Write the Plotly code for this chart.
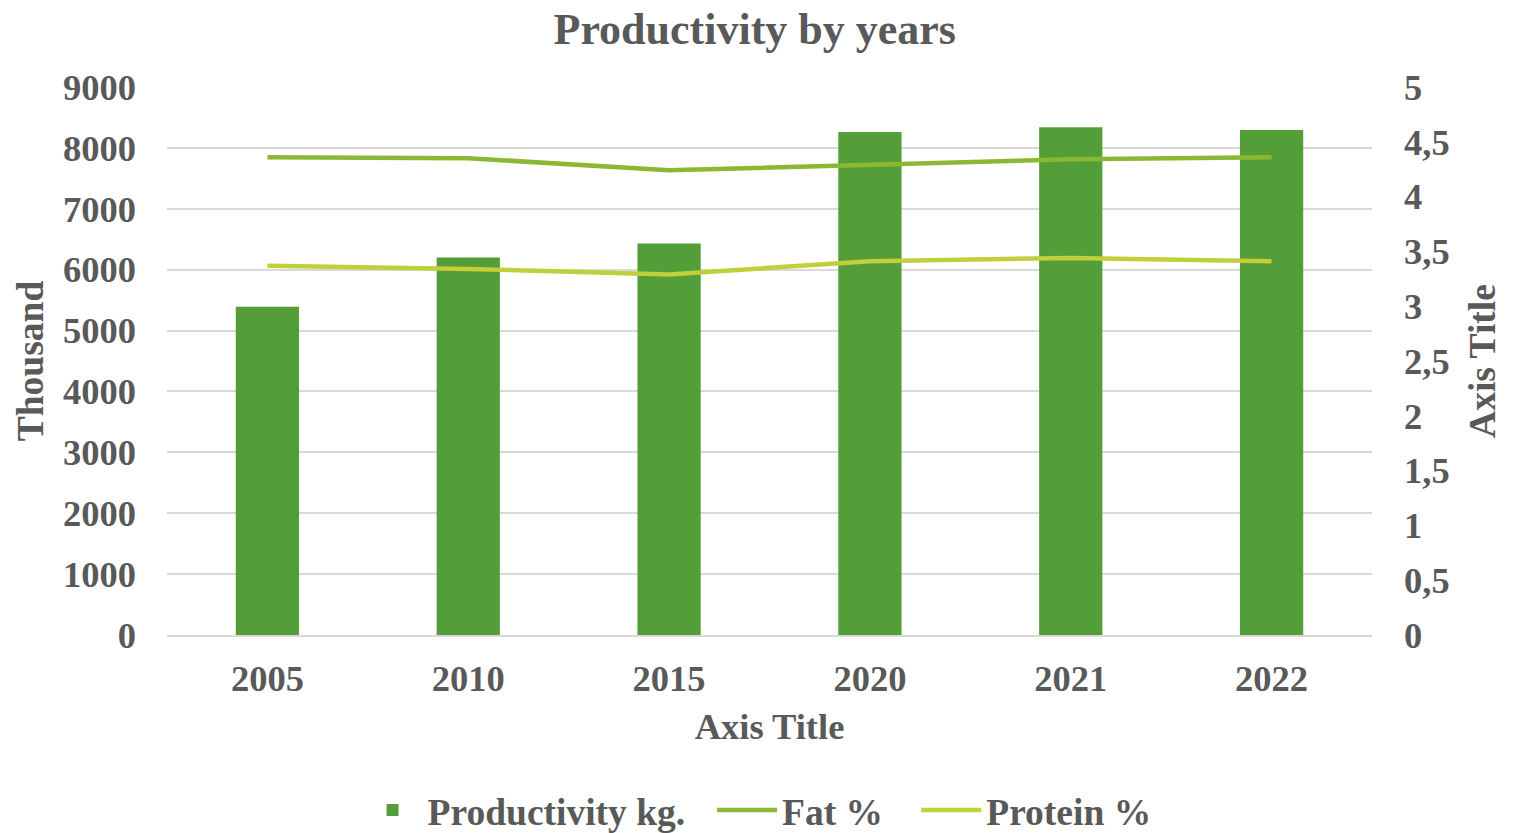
import plotly.graph_objects as go

years = ["2005", "2010", "2015", "2020", "2021", "2022"]
productivity = [5390, 6200, 6430, 8260, 8340, 8295]
fat = [4.36, 4.35, 4.24, 4.29, 4.34, 4.36]
protein = [3.37, 3.34, 3.29, 3.41, 3.44, 3.41]

left_ticks = [0, 1000, 2000, 3000, 4000, 5000, 6000, 7000, 8000, 9000]
right_ticks = [0, 0.5, 1, 1.5, 2, 2.5, 3, 3.5, 4, 4.5, 5]
right_labels = ["0", "0,5", "1", "1,5", "2", "2,5", "3", "3,5", "4", "4,5", "5"]

FONT = "Liberation Serif"
GREY = "#595959"
TS = 36.5

fig = go.Figure()
fig.add_trace(go.Bar(x=years, y=productivity, name="<b>Productivity kg.</b>\u00a0\u00a0\u200a",
                     marker=dict(color="#549E39", line=dict(width=0)), width=0.315))
fig.add_trace(go.Scatter(x=years, y=fat, name="<b>Fat %</b>\u00a0\u00a0\u00a0", mode="lines",
                         line=dict(color="#8AB833", width=4.5), yaxis="y2"))
fig.add_trace(go.Scatter(x=years, y=protein, name="<b>Protein %</b>", mode="lines",
                         line=dict(color="#C0CF3A", width=4.5), yaxis="y2"))

fig.update_layout(
    width=1524, height=833,
    margin=dict(l=159, r=160, t=79, b=206, autoexpand=False),
    paper_bgcolor="white", plot_bgcolor="white",
    font=dict(family=FONT, color=GREY, size=TS),
    title=dict(text="<b>Productivity by years</b>", x=0.49, xanchor="center",
               y=0.975, yanchor="middle", font=dict(size=44, family=FONT, color=GREY)),
    xaxis=dict(type="category", showgrid=False, showline=True, linecolor="#d9d9d9", linewidth=1.5,
               ticks="", tickfont=dict(size=TS, family=FONT, color=GREY),
               tickprefix="<b>", ticksuffix="</b>", ticklabelstandoff=10, automargin=False,
               title=dict(text="<b>Axis Title</b>", font=dict(size=TS, family=FONT, color=GREY), standoff=16)),
    yaxis=dict(range=[0, 9000], tickvals=left_ticks,
               ticktext=["<b>%d</b>" % v for v in left_ticks],
               showgrid=True, gridcolor="#d9d9d9", gridwidth=1.5, zeroline=False,
               ticks="", tickfont=dict(size=TS, family=FONT, color=GREY),
               ticklabelstandoff=30, automargin=False,
               title=dict(text="<b>Thousand</b>", font=dict(size=37.5, family=FONT, color=GREY), standoff=7)),
    yaxis2=dict(range=[0, 5], tickvals=right_ticks,
                ticktext=["<b>%s</b>" % t for t in right_labels],
                overlaying="y", side="right", showgrid=False, zeroline=False,
                ticks="", tickfont=dict(size=TS, family=FONT, color=GREY),
                ticklabelstandoff=31, automargin=False,
                title=dict(text="<b>Axis Title</b>", font=dict(size=37.5, family=FONT, color=GREY), standoff=20)),
    legend=dict(orientation="h", x=0.4915, xanchor="center", yref="container", y=0.037, yanchor="middle",
                xref="container",
                font=dict(size=37.5, family=FONT, color=GREY), itemwidth=60,
                traceorder="normal"),
    bargap=0.69,
    showlegend=True,
)

fig.write_html("out.html")
